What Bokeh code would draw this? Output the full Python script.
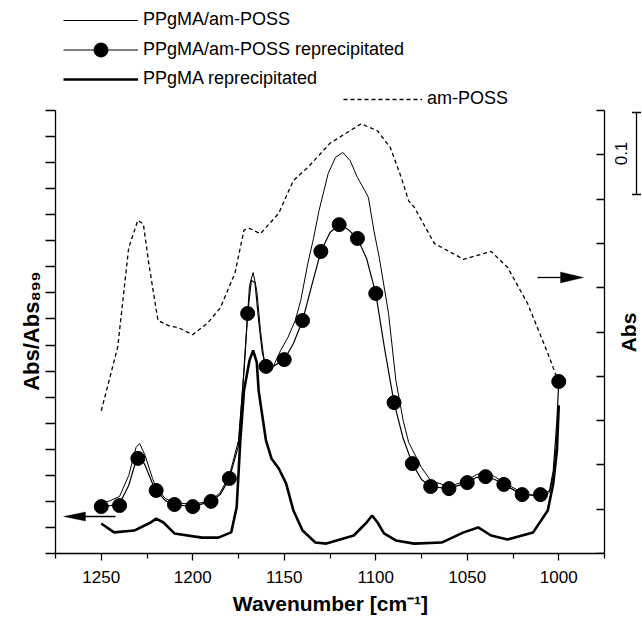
import math
from bokeh.plotting import figure
from bokeh.models import (Range1d, LinearAxis, FixedTicker, Legend, LegendItem,
                          Arrow, TeeHead, PolyAnnotation, Label, PrintfTickFormatter)
from bokeh.embed import file_html
from bokeh.resources import INLINE

# ---------------- data ----------------
# PPgMA/am-POSS (thin line), left axis units
wn_thin = [1250, 1245, 1240, 1235, 1231, 1229, 1226, 1222, 1220, 1215, 1210, 1200, 1190, 1185,
           1180, 1175, 1172, 1169, 1167, 1165, 1163, 1161, 1159, 1157, 1152, 1148, 1144, 1141,
           1137, 1134, 1131, 1126, 1122, 1118, 1114, 1110, 1106, 1104, 1101, 1098, 1093, 1089,
           1085, 1082, 1075, 1070, 1060, 1050, 1045, 1040, 1035, 1030, 1020, 1010, 1005, 1003,
           1001, 1000]
ab_thin = [1.92, 2.03, 2.19, 2.99, 4.07, 4.22, 3.76, 2.88, 2.53, 2.11, 1.96, 1.88, 2.03, 2.34,
           2.99, 4.34, 7.02, 10.28, 10.78, 10.09, 8.56, 7.41, 6.95, 7.02, 7.79, 8.29, 8.94, 9.71,
           11.17, 12.09, 13.16, 14.58, 15.20, 15.39, 15.08, 14.43, 13.93, 13.66, 12.39, 11.32,
           9.21, 6.64, 5.10, 4.26, 3.30, 2.80, 2.57, 2.80, 3.03, 3.11, 2.95, 2.72, 2.34, 2.15,
           2.34, 2.99, 4.34, 5.68]

# PPgMA/am-POSS reprecipitated (line), left axis units
wn_rep = [1250, 1245, 1240, 1235, 1231, 1229, 1226, 1222, 1220, 1215, 1210, 1200, 1190, 1185,
          1180, 1175, 1172, 1170, 1168, 1166, 1164, 1162, 1160, 1157, 1150, 1145, 1140, 1135,
          1130, 1125, 1120, 1115, 1110, 1105, 1100, 1095, 1090, 1085, 1080, 1075, 1070, 1060,
          1050, 1045, 1040, 1035, 1030, 1020, 1010, 1005, 1003, 1001, 1000]
ab_rep = [1.80, 1.84, 1.92, 2.61, 3.57, 3.76, 3.38, 2.69, 2.42, 2.03, 1.88, 1.80, 2.00, 2.26,
          2.88, 4.14, 7.02, 9.21, 10.48, 10.40, 8.94, 7.71, 7.18, 7.14, 7.44, 8.06, 8.94, 10.28,
          11.59, 12.32, 12.62, 12.43, 12.09, 11.32, 9.98, 7.79, 5.79, 4.41, 3.45, 2.84, 2.57,
          2.49, 2.72, 2.92, 2.95, 2.84, 2.65, 2.26, 2.23, 2.42, 3.18, 5.10, 6.60]

# PPgMA/am-POSS reprecipitated (markers every 10 cm-1)
wn_mark = [1250, 1240, 1230, 1220, 1210, 1200, 1190, 1180, 1170, 1160, 1150, 1140, 1130,
           1120, 1110, 1100, 1090, 1080, 1070, 1060, 1050, 1040, 1030, 1020, 1010, 1000]
ab_mark = [1.80, 1.84, 3.65, 2.42, 1.88, 1.80, 2.00, 2.88, 9.21, 7.18, 7.44, 8.94, 11.59,
           12.62, 12.09, 9.98, 5.79, 3.45, 2.57, 2.49, 2.72, 2.95, 2.65, 2.26, 2.26, 6.60]

# PPgMA reprecipitated (thick line), left axis units
wn_pp = [1250, 1243, 1232, 1223, 1220, 1216, 1210, 1195, 1186, 1179, 1176, 1174, 1172, 1169,
         1167, 1165, 1164, 1160, 1157, 1153, 1149, 1145, 1140, 1133, 1127, 1112, 1105, 1102,
         1099, 1095.5, 1089, 1079, 1064, 1052, 1044, 1037, 1028, 1014, 1006, 1003, 1001, 1000]
ab_pp = [1.15, 0.81, 0.88, 1.19, 1.34, 1.19, 0.77, 0.61, 0.61, 0.81, 1.77, 4.34, 6.25, 7.41,
         7.79, 7.33, 6.25, 4.34, 3.65, 3.26, 2.69, 1.65, 0.88, 0.42, 0.38, 0.69, 1.19, 1.46,
         1.19, 0.77, 0.50, 0.38, 0.42, 0.81, 1.00, 0.69, 0.54, 0.81, 1.65, 2.69, 3.95, 5.68]

# am-POSS (dashed), right axis, Abs
wn_poss = [1250, 1241, 1235, 1230, 1227, 1224, 1219, 1213, 1208, 1200, 1192, 1185, 1177, 1172,
           1169, 1163, 1153, 1150, 1145, 1137, 1125, 1108, 1099, 1092, 1086, 1082, 1079, 1068,
           1052, 1037, 1028, 1017, 1006, 1000]
ab_poss = [0.161, 0.233, 0.345, 0.376, 0.372, 0.327, 0.263, 0.257, 0.255, 0.247, 0.260, 0.277,
           0.316, 0.365, 0.367, 0.361, 0.384, 0.398, 0.421, 0.436, 0.463, 0.485, 0.477, 0.458,
           0.424, 0.398, 0.391, 0.350, 0.332, 0.341, 0.323, 0.282, 0.226, 0.193]

x_major = [1250, 1200, 1150, 1100, 1050, 1000]
x_minor = [1275, 1225, 1175, 1125, 1075, 1025, 975]
x_lo, x_hi = 975, 1275
left_ticks = list(range(0, 18))
left_top = 17
right_ticks = [0.0, 0.05, 0.1, 0.15, 0.2, 0.25, 0.3, 0.35, 0.4, 0.45, 0.5]
right_top = 0.5

x_title = "Wavenumber [cm\u207b\u00b9]"
y_title = "Abs/Abs\u2088\u2089\u2089"
y2_title = "Abs"
scale_text = "0.1"
names = ["PPgMA/am-POSS", "PPgMA/am-POSS reprecipitated", "PPgMA reprecipitated", "am-POSS"]

FONT = "Liberation Sans"

# ---------------- layout (pixels) ----------------
W, H = 642, 618
AX_L, AX_R, AX_T, AX_B = 55, 604, 110, 553      # where the axes sit on the page
frame_h = AX_B                                   # frame runs from the top of the page
px_per_x = (AX_R - AX_L) / (x_hi - x_lo)
px_per_y = (AX_B - AX_T) / left_top
x_end = x_lo - (W - AX_R) / px_per_x
y_end = left_top * frame_h / (AX_B - AX_T)
y2_end = right_top * frame_h / (AX_B - AX_T)
x_title_at = x_hi - (330 - AX_L) / px_per_x      # centre of the x title
y_title_at = (AX_B - 271) / px_per_y             # end of the y title (it reads upwards)

p = figure(width=W, height=H, output_backend="svg", toolbar_location=None,
           x_range=Range1d(x_hi, x_end), y_range=Range1d(0, y_end),
           min_border_left=AX_L, min_border_right=0, min_border_top=0,
           min_border_bottom=H - AX_B)
p.title.visible = False
p.extra_y_ranges = {"abs": Range1d(0, y2_end)}
p.outline_line_color = None
p.grid.visible = False
p.background_fill_color = "white"
p.border_fill_color = "white"

# bottom axis
xa = p.xaxis[0]
xa.ticker = FixedTicker(ticks=x_major, minor_ticks=x_minor)
xa.bounds = (x_lo, x_hi)
xa.major_tick_in = 0
xa.major_tick_out = 7
xa.minor_tick_in = 0
xa.minor_tick_out = 5
xa.axis_line_width = 1.3
xa.major_tick_line_width = 1.3
xa.minor_tick_line_width = 1.3
xa.axis_line_color = "black"
xa.major_tick_line_color = "black"
xa.minor_tick_line_color = "black"
xa.major_label_text_font = FONT
xa.major_label_text_font_size = "17px"
xa.major_label_text_color = "black"
xa.major_label_standoff = 10

# x title, carried by a bare axis below so it is centred under the scale
xl = LinearAxis(ticker=FixedTicker(ticks=[x_title_at], minor_ticks=[]),
                formatter=PrintfTickFormatter(format=x_title))
xl.axis_line_color = None
xl.major_tick_line_color = None
xl.minor_tick_line_color = None
xl.major_tick_in = 0
xl.major_tick_out = 0
xl.major_label_text_font = FONT
xl.major_label_text_font_size = "21px"
xl.major_label_text_font_style = "bold"
xl.major_label_text_color = "black"
xl.major_label_standoff = 6
p.add_layout(xl, "below")

# left axis
ya = p.yaxis[0]
ya.ticker = FixedTicker(ticks=left_ticks, minor_ticks=[])
ya.bounds = (0, left_top)
ya.major_tick_in = 0
ya.major_tick_out = 10
ya.minor_tick_line_color = None
ya.axis_line_width = 1.3
ya.major_tick_line_width = 1.3
ya.axis_line_color = "black"
ya.major_tick_line_color = "black"
ya.major_label_text_font_size = "0px"
ya.major_label_text_color = None
ya.major_label_standoff = 0

# y title, carried by a bare axis at the left
yl = LinearAxis(ticker=FixedTicker(ticks=[y_title_at], minor_ticks=[]),
                formatter=PrintfTickFormatter(format=y_title))
yl.axis_line_color = None
yl.major_tick_line_color = None
yl.minor_tick_line_color = None
yl.major_tick_in = 0
yl.major_tick_out = 0
yl.major_label_orientation = math.pi / 2
yl.major_label_text_font = FONT
yl.major_label_text_font_size = "22px"
yl.major_label_text_font_style = "bold"
yl.major_label_text_color = "black"
yl.major_label_standoff = 14
p.add_layout(yl, "left")

# right axis, fixed at the right end of the wavenumber scale
ra = LinearAxis(y_range_name="abs", ticker=FixedTicker(ticks=right_ticks, minor_ticks=[]),
                bounds=(0, right_top), fixed_location=x_lo)
ra.major_tick_in = 8
ra.major_tick_out = 0
ra.minor_tick_line_color = None
ra.axis_line_width = 1.3
ra.major_tick_line_width = 1.3
ra.axis_line_color = "black"
ra.major_tick_line_color = "black"
ra.major_label_text_font_size = "0px"
ra.major_label_text_color = None
ra.major_label_standoff = 0
p.add_layout(ra, "right")

# curves
r_poss = p.line(wn_poss, ab_poss, y_range_name="abs", line_color="black", line_width=1.3,
                line_dash="4 3")
r_thin = p.line(wn_thin, ab_thin, line_color="black", line_width=1.0)
r_rep = p.line(wn_rep, ab_rep, line_color="black", line_width=1.2)
r_mark = p.scatter(wn_mark, ab_mark, size=14, fill_color="black", line_color="black")
r_pp = p.line(wn_pp, ab_pp, line_color="black", line_width=2.6)


def make_legend(item, cx, cy, gw, gh):
    # cx: left of glyph, cy: centre of the row (page pixels)
    lg = Legend(items=[item], location=(cx - AX_L, int(round(AX_B - cy - gh / 2))),
                glyph_width=gw, glyph_height=gh, label_height=20, label_standoff=5,
                padding=0, margin=0, spacing=0, border_line_color=None,
                background_fill_alpha=0, label_text_font=FONT, label_text_font_size="18px",
                label_text_color="black")
    p.add_layout(lg)


make_legend(LegendItem(label=names[0], renderers=[r_thin]), 63, 20, 75, 20)
make_legend(LegendItem(label=names[1], renderers=[r_rep, r_mark]), 63, 50, 75, 35)
make_legend(LegendItem(label=names[2], renderers=[r_pp]), 63, 79, 75, 20)
make_legend(LegendItem(label=names[3], renderers=[r_poss]), 343, 99, 79, 20)


def sx(x):
    return x - AX_L


def sy(y):
    return AX_B - y


# arrows pointing to the axes
p.add_layout(Arrow(end=None, x_start=sx(115), y_start=sy(516), x_end=sx(84), y_end=sy(516),
                   start_units="screen", end_units="screen", line_width=1.3, line_color="black"))
p.add_layout(PolyAnnotation(xs=[sx(63), sx(85), sx(85)], ys=[sy(516), sy(511.5), sy(520.5)],
                            xs_units="screen", ys_units="screen", fill_color="black",
                            fill_alpha=1, line_color="black", line_width=1))
p.add_layout(Arrow(end=None, x_start=sx(537), y_start=sy(277), x_end=sx(561), y_end=sy(277),
                   start_units="screen", end_units="screen", line_width=1.3, line_color="black"))
p.add_layout(PolyAnnotation(xs=[sx(583), sx(560), sx(560)], ys=[sy(277), sy(271.5), sy(282.5)],
                            xs_units="screen", ys_units="screen", fill_color="black",
                            fill_alpha=1, line_color="black", line_width=1))

# scale bar (0.1 Abs)
p.add_layout(Arrow(start=TeeHead(size=9, line_width=1.3, line_color="black"),
                   end=TeeHead(size=9, line_width=1.3, line_color="black"),
                   x_start=sx(636), y_start=sy(112), x_end=sx(636), y_end=sy(194),
                   start_units="screen", end_units="screen", line_width=1.3, line_color="black"))
p.add_layout(Label(x=sx(620.5), y=sy(153), x_units="screen", y_units="screen", text=scale_text,
                   angle=math.pi / 2, text_align="center", text_baseline="alphabetic",
                   text_font=FONT, text_font_size="17px", text_color="black"))
p.add_layout(Label(x=sx(627.5), y=sy(332), x_units="screen", y_units="screen", text=y2_title,
                   angle=math.pi / 2, text_align="center", text_baseline="alphabetic",
                   text_font=FONT, text_font_size="21px", text_font_style="bold",
                   text_color="black"))

open("out.html", "w").write(file_html(p, INLINE))
